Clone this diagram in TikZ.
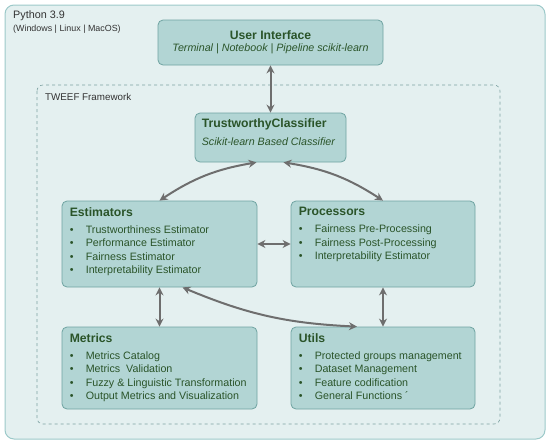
\documentclass[tikz,border=0pt]{standalone}
\usepackage{fontspec}
\setmainfont{Liberation Sans}
\usepackage{xcolor}
\definecolor{envbg}{HTML}{E4F0F0}
\definecolor{envbd}{HTML}{9CC9C9}
\definecolor{modbg}{HTML}{B2D5D4}
\definecolor{modbd}{HTML}{6FA3A1}
\definecolor{modtx}{HTML}{2A5429}
\definecolor{linkc}{HTML}{6E6E6E}
\usepackage{tikz}
\usetikzlibrary{positioning, arrows.meta}
\newcommand{\bul}{\makebox[16pt][l]{\textbullet}}

\begin{document}
\begin{tikzpicture}[
  x=1pt, y=-1pt,
  module/.style={draw=modbd, fill=modbg, rounded corners=5pt, line width=0.8pt},
  list/.style={font=\fontsize{10.7}{13.3}\selectfont, text=modtx, inner sep=0pt, align=left},
  link/.style={{Stealth[length=8pt,width=8pt]}-{Stealth[length=8pt,width=8pt]}, draw=linkc, line width=2pt},
]
\useasboundingbox (0,0) rectangle (550,445);

% Python environment
\draw[draw=envbd, fill=envbg, rounded corners=9pt, line width=1pt] (5,5) rectangle (545,439);
\node[anchor=west, inner sep=0pt, font=\fontsize{10.8}{12}\selectfont, text=black!80] (py) at (13,16) {Python 3.9};
\node[anchor=west, inner sep=0pt, font=\fontsize{8.9}{10}\selectfont, text=black!80] (os) at (13,29) {(Windows | Linux | MacOS)};

% User interface
\node[module, minimum width=225pt, minimum height=45pt, align=center, text=modtx] (ui) at (270.5,42.5)
  {{\fontsize{12.2}{15}\selectfont\bfseries User Interface}\\[0pt]
   {\fontsize{10.7}{12}\selectfont\itshape Terminal | Notebook | Pipeline scikit-learn}};

% TWEEF framework
\draw[draw=envbd!80!black, dashed, rounded corners=6pt, line width=0.6pt] (37,85) rectangle (500,424);
\node[anchor=west, inner sep=0pt, font=\fontsize{9.8}{11}\selectfont, text=black!80] (fw) at (45,97) {TWEEF Framework};

% Modules
\node[module, minimum width=151pt, minimum height=49pt] (tc) at (270.5,137.5) {};
\node[list, below right=5.5pt and 7pt of tc.north west] (tcl)
  {{\fontsize{12.2}{14}\selectfont\bfseries TrustworthyClassifier}\\[5pt]
   {\itshape Scikit-learn Based Classifier}};

\node[module, minimum width=195pt, minimum height=86pt] (est) at (159.5,244) {};
\node[list, below right=6.5pt and 8pt of est.north west] (estl)
  {{\fontsize{12.2}{14}\selectfont\bfseries Estimators}\\[4pt]
   \bul Trustworthiness Estimator\\
   \bul Performance Estimator\\
   \bul Fairness Estimator\\
   \bul Interpretability Estimator};

\node[module, minimum width=184pt, minimum height=86pt] (proc) at (383,244) {};
\node[list, below right=6.5pt and 8pt of proc.north west] (procl)
  {{\fontsize{12.2}{14}\selectfont\bfseries Processors}\\[4pt]
   \bul Fairness Pre-Processing\\
   \bul Fairness Post-Processing\\
   \bul Interpretability Estimator};

\node[module, minimum width=195pt, minimum height=82pt] (met) at (159.5,368) {};
\node[list, below right=6.5pt and 8pt of met.north west] (metl)
  {{\fontsize{12.2}{14}\selectfont\bfseries Metrics}\\[4pt]
   \bul Metrics Catalog\\
   \bul Metrics\ \ Validation\\
   \bul Fuzzy \& Linguistic Transformation\\
   \bul Output Metrics and Visualization};

\node[module, minimum width=184pt, minimum height=82pt] (ut) at (383,368) {};
\node[list, below right=6.5pt and 8pt of ut.north west] (utl)
  {{\fontsize{12.2}{14}\selectfont\bfseries Utils}\\[4pt]
   \bul Protected groups management\\
   \bul Dataset Management\\
   \bul Feature codification\\
   \bul General Functions ´};

% Connections
\draw[link] (ui.south) -- (tc.north);
\draw[link] ([xshift=-14pt]tc.south) to[bend right=12] (est.north);
\draw[link] ([xshift=13pt]tc.south) to[bend left=12] (proc.north);
\draw[link] (est.east) -- (proc.west);
\draw[link] (est.south) -- (met.north);
\draw[link] (proc.south) -- (ut.north);
\draw[link] ([xshift=23pt]est.south) to[bend right=10] ([xshift=-26pt]ut.north);
\end{tikzpicture}
\end{document}
